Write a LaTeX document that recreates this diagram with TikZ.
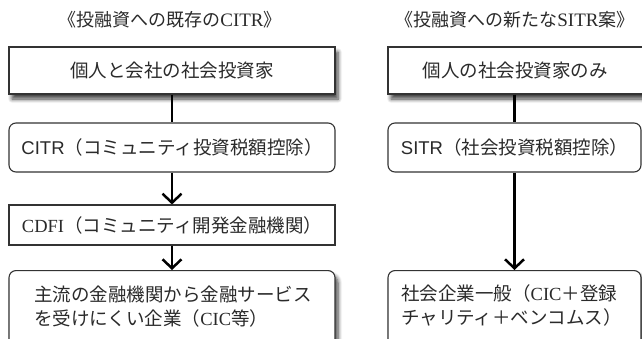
\documentclass[tikz,border=0pt]{standalone}
\usepackage{fontspec}
\setmainfont{Noto Sans CJK JP}
\newfontfamily\lser{Liberation Serif}
\newfontfamily\lsans{Liberation Sans}
\usetikzlibrary{arrows.meta,shadows.blur}
\definecolor{ink}{HTML}{2A2A2A}
\definecolor{edge}{HTML}{333333}
\tikzset{
  boxbase/.style={draw=edge, line width=1.1pt, fill=white, inner sep=0pt, text=ink,
    font=\fontsize{18.5}{23.5}\selectfont},
  sqbox/.style={boxbase, rectangle},
  rdbox/.style={boxbase, rectangle, rounded corners=7pt},
  shbox/.style={blur shadow={shadow xshift=3pt, shadow yshift=-5pt, shadow blur steps=6, shadow blur radius=4pt, shadow opacity=75}},
  ttl/.style={text=ink, inner sep=0pt, font=\fontsize{18}{21}\selectfont},
  txt/.style={text=ink, inner sep=0pt, align=left, font=\fontsize{18.5}{23.5}\selectfont},
  link/.style={draw=black, line width=2.5pt},
  arr/.style={link, -{Straight Barb[length=9pt, width=19pt, line width=2.5pt]}},
}
\begin{document}
\begin{tikzpicture}[x=1pt, y=-1pt]
\useasboundingbox (0,0) rectangle (642,338);
\clip (0,0) rectangle (642,338);
% titles
\node[ttl] (tl) at (170,20) {《投融資への既存の{\lser\fontsize{19}{21}\selectfont CITR}》};
\node[ttl] (tr) at (515,20) {《投融資への新たな{\lser\fontsize{19}{21}\selectfont SITR}案》};
% left column
\node[sqbox, shbox, minimum width=326pt, minimum height=47pt] (topL) at (172,70.5) {個人と会社の社会投資家};
\node[rdbox, minimum width=326pt, minimum height=49pt] (citr) at (172,147.5) {{\lsans CITR}（コミュニティ投資税額控除）};
\node[sqbox, minimum width=326pt, minimum height=40pt] (cdfi) at (172,225) {{\lser CDFI}（コミュニティ開発金融機関）};
\node[rdbox, shbox, minimum width=326pt, minimum height=100pt, anchor=north] (botL) at (172,270) {};
\node[txt, anchor=west] (botLt) at (34,306.5) {主流の金融機関から金融サービス\\を受けにくい企業（{\lser CIC}等）};
% right column
\node[sqbox, shbox, minimum width=256pt, minimum height=47pt] (topR) at (516,70.5) {};
\node[txt] (topRt) at (515,70.5) {個人の社会投資家のみ};
\node[rdbox, minimum width=253pt, minimum height=49pt] (sitr) at (514.5,147.5) {{\lsans SITR}（社会投資税額控除）};
\node[rdbox, shbox, minimum width=253pt, minimum height=100pt, anchor=north] (botR) at (514.5,270) {};
\node[txt, anchor=west] (botRt) at (401,305.5) {社会企業一般（{\lser CIC}＋登録\\チャリティ＋ベンコムス）};
% connectors
\draw[link] (topL.south) -- (citr.north);
\draw[arr] (citr.south) -- (cdfi.north);
\draw[arr] (cdfi.south) -- (botL.north);
\draw[link] (topR.south -| sitr.north) -- (sitr.north);
\draw[arr] (sitr.south) -- (botR.north);
\end{tikzpicture}
\end{document}
